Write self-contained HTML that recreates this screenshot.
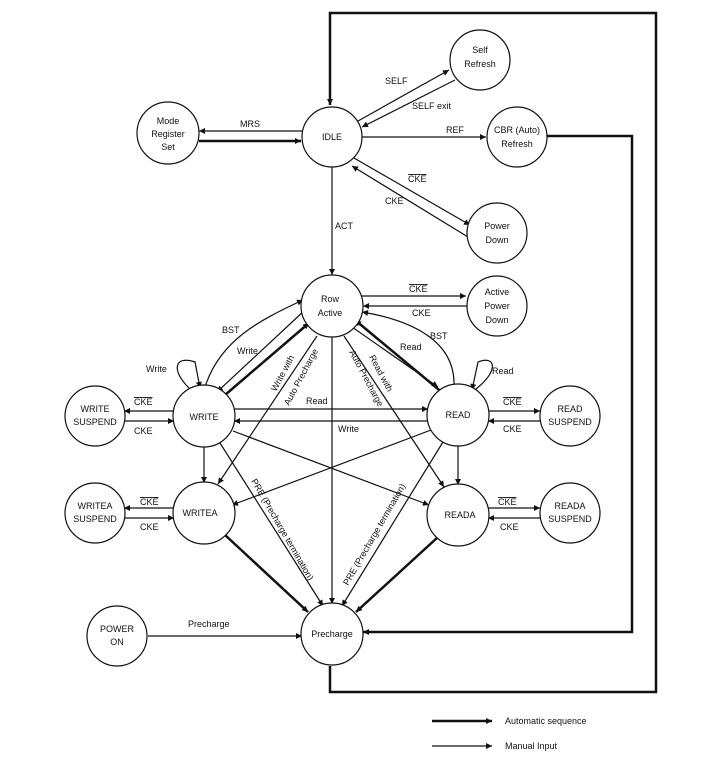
<!DOCTYPE html>
<html><head><style>body{margin:0;background:#fff}svg{display:block}text{font-family:"Liberation Sans",sans-serif;font-size:9px;fill:#111}</style></head><body>
<svg width="702" height="757" viewBox="0 0 702 757" xmlns="http://www.w3.org/2000/svg">
<defs>
<marker id="a" viewBox="0 0 10 10" refX="10" refY="5" markerWidth="7" markerHeight="6" markerUnits="userSpaceOnUse" orient="auto"><path d="M0,0L10,5L0,10z" fill="#111"/></marker>
</defs>
<g fill="none" stroke="#111" stroke-width="1.2" marker-end="url(#a)">
<!-- thick loops -->
<path d="M330,666V692H656V13H330V105" stroke-width="2.5"/>
<path d="M547,136H632V632H363" stroke-width="2.5"/>
<path d="M199,141H301" stroke-width="2.5"/>
<path d="M302,131H199"/>
<path d="M358,121L449,70"/>
<path d="M455,80L362,127"/>
<path d="M362,137H486"/>
<path d="M354,158L470,225"/>
<path d="M468,237L352,166"/>
<path d="M332,167V275"/>
<path d="M362,296H466"/>
<path d="M467,306H363"/>
<!-- Row Active <-> WRITE -->
<path d="M205,387C220,340 260,320 303,300"/>
<path d="M305,310L217,392"/>
<path d="M225,395L309,323" stroke-width="2.5"/>
<path d="M190,389C170,370 175,355 195,362 L200,388"/>
<!-- Row Active <-> READ -->
<path d="M352,327L438,387"/>
<path d="M444,394L355,320" stroke-width="2.5"/>
<path d="M454,385C455,340 410,320 362,312"/>
<path d="M476,389C500,370 495,355 478,362 L472,390"/>
<path d="M234,409H428"/>
<path d="M428,421H234"/>
<path d="M317,336L218,484"/>
<path d="M344,336L444,487"/>
<path d="M332,337V604"/>
<path d="M204,447V483"/>
<path d="M458,445V485"/>
<path d="M233,431L429,505"/>
<path d="M431,430L232,505"/>
<path d="M220,443L323,606"/>
<path d="M443,442L342,606"/>
<path d="M224,534L308,612" stroke-width="2.5"/>
<path d="M438,537L356,612" stroke-width="2.5"/>
<path d="M148,636H302"/>
<path d="M174,411H124"/><path d="M124,421H174"/>
<path d="M174,508H124"/><path d="M124,518H174"/>
<path d="M488,411H540"/><path d="M540,421H488"/>
<path d="M488,508H540"/><path d="M540,518H488"/>
<path d="M432,721H492" stroke-width="2.5"/>
<path d="M432,746H492"/>
</g>
<g fill="#fff" stroke="#111" stroke-width="1.2">
<circle cx="480" cy="60" r="30"/><circle cx="332" cy="137" r="30"/><circle cx="168" cy="133" r="31"/>
<circle cx="517" cy="137" r="30"/><circle cx="497" cy="233" r="30"/><circle cx="332" cy="306" r="31"/>
<circle cx="497" cy="306" r="30"/><circle cx="204" cy="416" r="31"/><circle cx="458" cy="415" r="31"/>
<circle cx="204" cy="513" r="31"/><circle cx="458" cy="515" r="31"/>
<circle cx="95" cy="416" r="30"/><circle cx="95" cy="513" r="30"/><circle cx="570" cy="416" r="30"/><circle cx="570" cy="513" r="30"/>
<circle cx="117" cy="636" r="30"/><circle cx="332" cy="634" r="31"/>
</g>
<g text-anchor="middle">
<text x="480" y="53">Self</text><text x="480" y="67">Refresh</text>
<text x="332" y="140">IDLE</text>
<text x="168" y="124">Mode</text><text x="168" y="137">Register</text><text x="168" y="150">Set</text>
<text x="517" y="133">CBR (Auto)</text><text x="517" y="147">Refresh</text>
<text x="497" y="229">Power</text><text x="497" y="243">Down</text>
<text x="330" y="302">Row</text><text x="330" y="316">Active</text>
<text x="497" y="295">Active</text><text x="497" y="309">Power</text><text x="497" y="323">Down</text>
<text x="204" y="420">WRITE</text><text x="458" y="418">READ</text>
<text x="200" y="516">WRITEA</text><text x="460" y="518">READA</text>
<text x="95" y="412">WRITE</text><text x="95" y="425">SUSPEND</text>
<text x="95" y="509">WRITEA</text><text x="95" y="522">SUSPEND</text>
<text x="570" y="412">READ</text><text x="570" y="425">SUSPEND</text>
<text x="570" y="509">READA</text><text x="570" y="522">SUSPEND</text>
<text x="117" y="632">POWER</text><text x="117" y="645">ON</text>
<text x="332" y="637">Precharge</text>
</g>
<g>
<text x="385" y="84">SELF</text><text x="412" y="109">SELF exit</text>
<text x="240" y="127">MRS</text><text x="446" y="133">REF</text>
<text x="408" y="182" text-decoration="overline">CKE</text><text x="385" y="204">CKE</text>
<text x="335" y="229">ACT</text>
<text x="409" y="292" text-decoration="overline">CKE</text><text x="412" y="316">CKE</text>
<text x="222" y="333">BST</text><text x="237" y="354">Write</text><text x="146" y="372">Write</text>
<text x="430" y="339">BST</text><text x="400" y="350">Read</text><text x="492" y="374">Read</text>
<text x="306" y="404">Read</text><text x="338" y="432">Write</text>
<text x="134" y="405" text-decoration="overline">CKE</text><text x="134" y="434">CKE</text>
<text x="140" y="505" text-decoration="overline">CKE</text><text x="140" y="530">CKE</text>
<text x="503" y="405" text-decoration="overline">CKE</text><text x="503" y="432">CKE</text>
<text x="498" y="505" text-decoration="overline">CKE</text><text x="500" y="530">CKE</text>
<text x="188" y="627">Precharge</text>
<text x="505" y="724">Automatic sequence</text><text x="505" y="749">Manual Input</text>
<text transform="translate(276,392) rotate(-62)">Write with</text>
<text transform="translate(289,406) rotate(-62)">Auto Precharge</text>
<text transform="translate(349,352) rotate(62)">Auto Precharge</text>
<text transform="translate(369,357) rotate(62)">Read with</text>
<text transform="translate(251,481) rotate(60)">PRE (Precharge termination)</text>
<text transform="translate(348,586) rotate(-60)">PRE (Precharge termination)</text>
</g>
</svg>
</body></html>
